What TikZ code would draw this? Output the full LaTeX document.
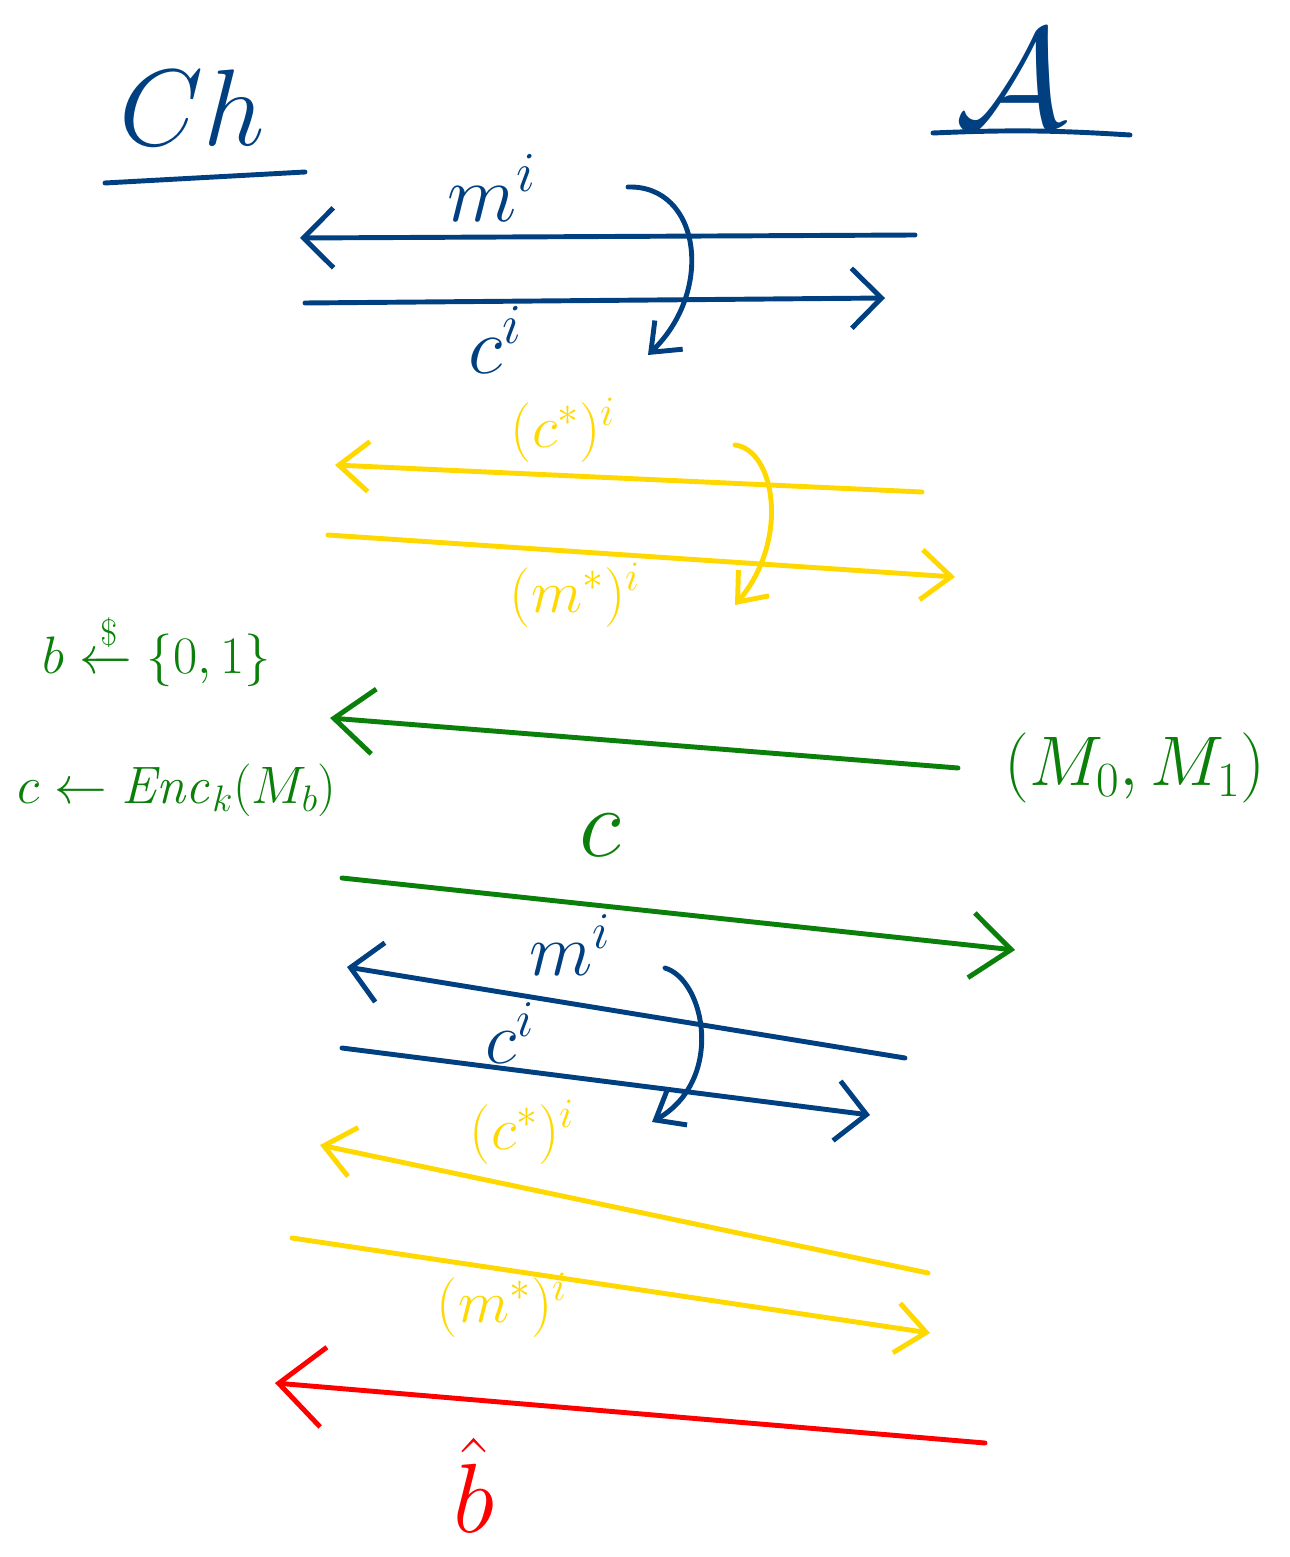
\documentclass[tikz,border=0pt]{standalone}
\usepackage{fix-cm}
\usepackage{amsmath}
\usepackage{xcolor}
\definecolor{cBlue}{HTML}{003F80}
\definecolor{cYellow}{HTML}{FFD800}
\definecolor{cGreen}{HTML}{0A800A}
\definecolor{cRed}{HTML}{FF0000}
\usetikzlibrary{arrows.meta}
\tikzset{
  ink/.style={line width=2.8pt,line cap=round,line join=round},
  msg-blue/.style={ink,draw=cBlue,-{Straight Barb[length=6mm,width=12mm]}},
  msg-yellow/.style={ink,draw=cYellow,-{Straight Barb[length=6mm,width=10mm]}},
  msg-green/.style={ink,draw=cGreen,-{Straight Barb[length=8mm,width=13mm]}},
  msg-red/.style={ink,draw=cRed,-{Straight Barb[length=9mm,width=16mm]}},
  answer-blue/.style={ink,draw=cBlue,-{Straight Barb[length=5mm,width=8mm]}},
  answer-yellow/.style={ink,draw=cYellow,-{Straight Barb[length=5mm,width=8mm]}},
  party/.style={inner sep=0pt,text=cBlue},
  lbl/.style={inner sep=0pt},
}
\newcommand{\fs}[1]{\fontsize{#1}{#1}\selectfont}

\begin{document}
\begin{tikzpicture}[x=0.02cm,y=-0.02cm]
  \useasboundingbox (0,0) rectangle (1290,1557);
  % the two parties
  \node[party,font=\fs{62}] (Ch) at (192,108) {$Ch$};
  \node[party,font=\fs{80}] (Adv) at (1012,78) {$\mathcal{A}$};
  \coordinate (ChL) at (105,183); \coordinate (ChR) at (305,172);
  \coordinate (AdvL) at (933,133); \coordinate (AdvR) at (1130,135);
  \draw[ink,draw=cBlue] (ChL) -- (ChR);
  \draw[ink,draw=cBlue] (AdvL) to[bend left=3] (AdvR);
  % messages
  \foreach \name/\xa/\ya/\xb/\yb/\kind in {
      mOne/915/235/300/238/msg-blue,
      cOne/305/303/885/298/msg-blue,
      csOne/922/492/335/465/msg-yellow,
      msOne/328/535/955/577/msg-yellow,
      pair/958/768/330/718/msg-green,
      chal/342/878/1015/950/msg-green,
      mTwo/905/1058/347/967/msg-blue,
      cTwo/342/1048/870/1115/msg-blue,
      csTwo/928/1273/320/1145/msg-yellow,
      msTwo/292/1238/930/1333/msg-yellow,
      guess/985/1443/275/1383/msg-red} {
    \coordinate (\name-a) at (\xa,\ya);
    \coordinate (\name-b) at (\xb,\yb);
    \draw[\kind] (\name-a) -- (\name-b);
  }
  % oracle answers
  \coordinate (qOne-a) at (628,187); \coordinate (qOne-b) at (648,355);
  \coordinate (qTwo-a) at (735,445); \coordinate (qTwo-b) at (735,605);
  \coordinate (qThree-a) at (665,968); \coordinate (qThree-b) at (652,1122);
  \draw[answer-blue] (qOne-a) .. controls (700,185) and (715,290) .. (qOne-b);
  \draw[answer-yellow] (qTwo-a) .. controls (775,450) and (790,540) .. (qTwo-b);
  \draw[answer-blue] (qThree-a) .. controls (705,980) and (725,1080) .. (qThree-b);
  % labels
  \node[lbl,text=cBlue,font=\fs{46}] (lmOne) at (492,188) {$m^i$};
  \node[lbl,text=cBlue,font=\fs{46}] (lcOne) at (495,340) {$c^i$};
  \node[lbl,text=cYellow,font=\fs{34}] (lcsOne) at (563,430) {$(c^*)^i$};
  \node[lbl,text=cYellow,font=\fs{34}] (lmsOne) at (575,595) {$(m^*)^i$};
  \node[lbl,text=cGreen,font=\fs{30}] (samp) at (157,650) {$b \xleftarrow{\$} \{0,1\}$};
  \node[lbl,text=cGreen,font=\fs{30}] (enc) at (177,790) {$c \leftarrow \mathit{Enc}_k(M_b)$};
  \node[lbl,text=cGreen,font=\fs{40}] (lpair) at (1135,768) {$(M_0,M_1)$};
  \node[lbl,text=cGreen,font=\fs{56}] (lchal) at (600,835) {$c$};
  \node[lbl,text=cBlue,font=\fs{42}] (lmTwo) at (570,945) {$m^i$};
  \node[lbl,text=cBlue,font=\fs{42}] (lcTwo) at (510,1033) {$c^i$};
  \node[lbl,text=cYellow,font=\fs{34}] (lcsTwo) at (522,1132) {$(c^*)^i$};
  \node[lbl,text=cYellow,font=\fs{34}] (lmsTwo) at (502,1305) {$(m^*)^i$};
  \node[lbl,text=cRed,font=\fs{56}] (lguess) at (474,1485) {$\hat{b}$};
\end{tikzpicture}
\end{document}
